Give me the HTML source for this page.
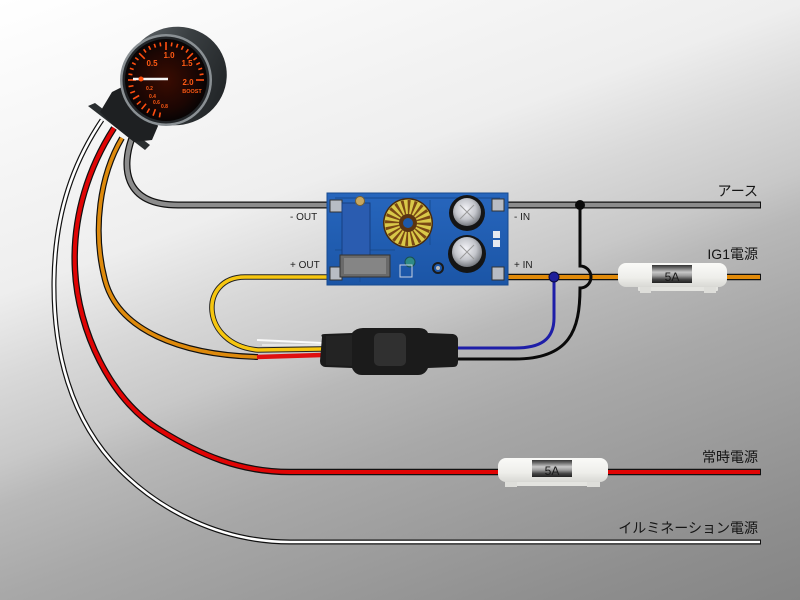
<!DOCTYPE html>
<html><head><meta charset="utf-8">
<style>
html,body{margin:0;padding:0;}
body{width:800px;height:600px;overflow:hidden;background:linear-gradient(160deg,#ffffff 0%,#eeeeee 33%,#d8d8d8 43%,#c8c8c8 52%,#b8b8b8 57%,#a8a8a8 67%,#9e9e9e 76%,#8e8e8e 90%,#858585 100%);}
svg{display:block;}
.lbl{font-family:"Liberation Sans","Noto Sans CJK JP",sans-serif;font-size:14px;fill:#151515;}
.pl{font-family:"Liberation Sans",sans-serif;font-size:10px;fill:#222;}
.g{font-family:"Liberation Sans",sans-serif;font-weight:bold;fill:#ff5a14;}
</style></head>
<body>
<svg width="800" height="600" viewBox="0 0 800 600" xmlns="http://www.w3.org/2000/svg">
<defs>
<radialGradient id="face" cx="0.5" cy="0.5" r="0.5">
<stop offset="0" stop-color="#3a0c02"/><stop offset="0.7" stop-color="#1c0603"/><stop offset="1" stop-color="#080404"/>
</radialGradient>
<linearGradient id="house" x1="0" y1="0" x2="1" y2="1">
<stop offset="0" stop-color="#6a7074"/><stop offset="0.45" stop-color="#3a3f42"/><stop offset="1" stop-color="#1a1d1f"/>
</linearGradient>
<linearGradient id="pcb" x1="0" y1="0" x2="0" y2="1">
<stop offset="0" stop-color="#2766bd"/><stop offset="1" stop-color="#1b55a6"/>
</linearGradient>
<linearGradient id="win" x1="0" y1="0" x2="0" y2="1">
<stop offset="0" stop-color="#333"/><stop offset="0.15" stop-color="#666"/><stop offset="0.4" stop-color="#c8c8c8"/><stop offset="0.6" stop-color="#9a9a9a"/><stop offset="0.8" stop-color="#444"/><stop offset="1" stop-color="#222"/>
</linearGradient>
<radialGradient id="cap" cx="0.45" cy="0.4" r="0.6">
<stop offset="0" stop-color="#f4f4f8"/><stop offset="0.6" stop-color="#c4c6cc"/><stop offset="1" stop-color="#777a80"/>
</radialGradient>
<linearGradient id="fuse" x1="0" y1="0" x2="0" y2="1">
<stop offset="0" stop-color="#fafaf8"/><stop offset="0.6" stop-color="#eeeeea"/><stop offset="1" stop-color="#d8d8d4"/>
</linearGradient>
</defs>

<!-- ===== wires from gauge ===== -->
<path d="M102,120 C75,160 55,210 54,280 C53,350 70,420 120,470 C160,510 220,542 290,542 L761,542" fill="none" stroke="#111" stroke-width="5"/>
<path d="M102,120 C75,160 55,210 54,280 C53,350 70,420 120,470 C160,510 220,542 290,542 L760,542" fill="none" stroke="#fff" stroke-width="2.6"/>
<path d="M114,128 C90,165 72,215 75,270 C78,330 110,400 160,430 C200,455 240,472 290,472 L761,472" fill="none" stroke="#111" stroke-width="6.5"/>
<path d="M114,128 C90,165 72,215 75,270 C78,330 110,400 160,430 C200,455 240,472 290,472 L760,472" fill="none" stroke="#e00404" stroke-width="4"/>
<path d="M122,138 C100,175 92,230 105,280 C118,330 180,355 258,357" fill="none" stroke="#111" stroke-width="6"/>
<path d="M122,138 C100,175 92,230 105,280 C118,330 180,355 258,357" fill="none" stroke="#de8a0c" stroke-width="3.6"/>
<path d="M132,138 C122,165 122,205 178,205 L338,205" fill="none" stroke="#111" stroke-width="7"/>
<path d="M132,138 C122,165 122,205 178,205 L338,205" fill="none" stroke="#8c8c8c" stroke-width="4.5"/>
<path d="M495,205 L761,205" fill="none" stroke="#111" stroke-width="7"/>
<path d="M495,205 L760,205" fill="none" stroke="#8c8c8c" stroke-width="4.5"/>
<path d="M495,277 L761,277" fill="none" stroke="#111" stroke-width="6.5"/>
<path d="M495,277 L760,277" fill="none" stroke="#e08a0a" stroke-width="4"/>
<path d="M337,277 L245,277 C198,277 200,345 258,350 L322,349" fill="none" stroke="#222" stroke-width="5.5"/>
<path d="M337,277 L245,277 C198,277 200,345 258,350 L322,349" fill="none" stroke="#f6c610" stroke-width="3.6"/>
<path d="M257,340 L322,343" stroke="#fafafa" stroke-width="2"/>
<path d="M262,345 L322,345" stroke="#eee" stroke-width="1.5"/>
<path d="M257,357 L322,355" stroke="#e01010" stroke-width="4.5"/>
<path d="M580,205 L580,266 A11,11 0 0 1 580,288 C580,330 570,359 515,359 L455,359" fill="none" stroke="#0a0a0a" stroke-width="3"/>
<path d="M554,277 L554,318 C554,340 540,348 515,348 L455,348" fill="none" stroke="#1e1ea8" stroke-width="3"/>
<circle cx="580" cy="205" r="5" fill="#0a0a0a"/>
<circle cx="554" cy="277" r="5" fill="#1e1e9a" stroke="#0a0a40" stroke-width="1"/>

<!-- ===== relay module ===== -->
<path d="M322,337 Q320,334 325,334 L352,333 Q356,328 363,328 L419,328 Q426,328 428,333 L453,334 Q458,335 458,340 L458,362 Q458,367 453,367 L428,368 Q425,375 418,375 L362,375 Q355,375 352,368 L325,367 Q320,366 320,361 Z" fill="#1b1b1b"/>
<path d="M326,336 L352,335 L352,366 L326,365 Z" fill="#232323"/>
<rect x="374" y="333" width="32" height="33" rx="5" fill="#303030"/>

<!-- ===== PCB ===== -->
<rect x="327" y="193" width="181" height="92" fill="url(#pcb)" stroke="#174a90" stroke-width="1"/>
<path d="M335,198 L500,198 M335,250 L395,250 M430,200 L430,245 M360,245 L360,282" stroke="#1a4f98" stroke-width="1.2" fill="none"/>
<rect x="330" y="200" width="12" height="12" fill="#b8bcc4" stroke="#333" stroke-width="1"/>
<rect x="330" y="267" width="12" height="13" fill="#b8bcc4" stroke="#333" stroke-width="1"/>
<rect x="492" y="199" width="12" height="12" fill="#b8bcc4" stroke="#333" stroke-width="1"/>
<rect x="492" y="267" width="12" height="13" fill="#b8bcc4" stroke="#333" stroke-width="1"/>
<rect x="493" y="231" width="7" height="7" fill="#e6eaf0"/>
<rect x="493" y="240" width="7" height="7" fill="#e6eaf0"/>
<rect x="342" y="203" width="28" height="55" fill="#2a5cb0" stroke="#163f82" stroke-width="1"/>
<circle cx="360" cy="201" r="4.5" fill="#c8a860" stroke="#7a6030" stroke-width="1"/>
<rect x="340" y="255" width="50" height="22" fill="#6a6a6a" stroke="#333" stroke-width="1"/>
<rect x="344" y="258" width="42" height="16" fill="#858585"/>
<!-- toroid -->
<circle cx="408" cy="223" r="25" fill="#4a2a0c"/>
<circle cx="408" cy="223" r="23.5" fill="#d9c848"/>
<circle cx="408" cy="223" r="16" fill="none" stroke="#7a4814" stroke-width="14" stroke-dasharray="2.2 2.8"/>
<circle cx="408" cy="223" r="9" fill="#5a3410"/>
<circle cx="408" cy="223" r="5" fill="#1d58a8"/>
<!-- caps -->
<circle cx="467" cy="213" r="18" fill="#151515"/>
<circle cx="467" cy="212" r="14" fill="url(#cap)"/>
<path d="M460,205 L474,219 M474,205 L460,219" stroke="#999" stroke-width="1"/>
<circle cx="467" cy="254" r="19" fill="#151515"/>
<circle cx="467" cy="252" r="15" fill="url(#cap)"/>
<path d="M460,245 L474,259 M474,245 L460,259" stroke="#999" stroke-width="1"/>
<circle cx="410" cy="262" r="5" fill="#2f8a86" stroke="#1a5050" stroke-width="1"/>
<rect x="400" y="265" width="12" height="12" fill="none" stroke="#c8d0e0" stroke-width="1"/>
<circle cx="438" cy="268" r="5" fill="none" stroke="#1a1a1a" stroke-width="2"/>
<circle cx="438" cy="268" r="2" fill="#bbb"/>

<text class="pl" x="290" y="220">- OUT</text>
<text class="pl" x="290" y="268">+ OUT</text>
<text class="pl" x="514" y="220">- IN</text>
<text class="pl" x="514" y="268">+ IN</text>

<!-- ===== fuses ===== -->
<g>
<rect x="638" y="281" width="80" height="10" rx="1" fill="#e4e4e0"/>
<rect x="640" y="284" width="11" height="9" fill="#dededa"/>
<rect x="704" y="284" width="12" height="9" fill="#dededa"/>
<rect x="618" y="263" width="109" height="24" rx="8" fill="url(#fuse)"/>
<rect x="652" y="265" width="40" height="18" fill="url(#win)"/>
<text x="672" y="281" text-anchor="middle" font-family="Liberation Sans,sans-serif" font-size="12" fill="#1a1a1a">5A</text>
</g>
<g>
<rect x="516" y="476" width="76" height="10" rx="1" fill="#e4e4e0"/>
<rect x="505" y="479" width="12" height="8" fill="#dededa"/>
<rect x="587" y="479" width="13" height="8" fill="#dededa"/>
<rect x="498" y="458" width="110" height="24" rx="8" fill="url(#fuse)"/>
<rect x="532" y="460" width="40" height="17" fill="url(#win)"/>
<text x="552" y="475" text-anchor="middle" font-family="Liberation Sans,sans-serif" font-size="12" fill="#1a1a1a">5A</text>
</g>

<text class="lbl" x="758" y="196" text-anchor="end">アース</text>
<text class="lbl" x="758" y="259" text-anchor="end">IG1電源</text>
<text class="lbl" x="758" y="462" text-anchor="end">常時電源</text>
<text class="lbl" x="758" y="533" text-anchor="end">イルミネーション電源</text>

<!-- ===== gauge ===== -->
<g>
<path d="M88,106 L95,103 L150,145 L145,150 Z" fill="#2a2e30"/>
<path d="M100,112 L112,92 L128,84 L150,108 L158,126 L152,140 L134,142 L114,126 Z" fill="#1e2022"/>
<ellipse cx="176" cy="76" rx="51" ry="49" transform="rotate(-20 176 76)" fill="url(#house)"/>
<circle cx="166" cy="80" r="46" fill="#8a9094"/>
<circle cx="166" cy="80" r="43.5" fill="#222528"/>
<circle cx="166" cy="80" r="41" fill="url(#face)"/>
<g stroke="#ff4e10" stroke-width="1.6">
<line x1="166" y1="42" x2="166" y2="47" transform="rotate(-170 166 80)"/>
<line x1="166" y1="42" x2="166" y2="49" transform="rotate(-160 166 80)"/>
<line x1="166" y1="42" x2="166" y2="47" transform="rotate(-150 166 80)"/>
<line x1="166" y1="42" x2="166" y2="49" transform="rotate(-140 166 80)"/>
<line x1="166" y1="42" x2="166" y2="47" transform="rotate(-130 166 80)"/>
<line x1="166" y1="42" x2="166" y2="49" transform="rotate(-120 166 80)"/>
<line x1="166" y1="42" x2="166" y2="47" transform="rotate(-110 166 80)"/>
<line x1="166" y1="42" x2="166" y2="47" transform="rotate(-100 166 80)"/>
<line x1="166" y1="42" x2="166" y2="50" transform="rotate(-90 166 80)"/>
<line x1="166" y1="42" x2="166" y2="46" transform="rotate(-81 166 80)"/>
<line x1="166" y1="42" x2="166" y2="46" transform="rotate(-72 166 80)"/>
<line x1="166" y1="42" x2="166" y2="46" transform="rotate(-63 166 80)"/>
<line x1="166" y1="42" x2="166" y2="46" transform="rotate(-54 166 80)"/>
<line x1="166" y1="42" x2="166" y2="50" transform="rotate(-45 166 80)"/>
<line x1="166" y1="42" x2="166" y2="46" transform="rotate(-36 166 80)"/>
<line x1="166" y1="42" x2="166" y2="46" transform="rotate(-27 166 80)"/>
<line x1="166" y1="42" x2="166" y2="46" transform="rotate(-18 166 80)"/>
<line x1="166" y1="42" x2="166" y2="46" transform="rotate(-9 166 80)"/>
<line x1="166" y1="42" x2="166" y2="50" transform="rotate(0 166 80)"/>
<line x1="166" y1="42" x2="166" y2="46" transform="rotate(9 166 80)"/>
<line x1="166" y1="42" x2="166" y2="46" transform="rotate(18 166 80)"/>
<line x1="166" y1="42" x2="166" y2="46" transform="rotate(27 166 80)"/>
<line x1="166" y1="42" x2="166" y2="46" transform="rotate(36 166 80)"/>
<line x1="166" y1="42" x2="166" y2="50" transform="rotate(45 166 80)"/>
<line x1="166" y1="42" x2="166" y2="46" transform="rotate(54 166 80)"/>
<line x1="166" y1="42" x2="166" y2="46" transform="rotate(63 166 80)"/>
<line x1="166" y1="42" x2="166" y2="46" transform="rotate(72 166 80)"/>
<line x1="166" y1="42" x2="166" y2="46" transform="rotate(81 166 80)"/>
<line x1="166" y1="42" x2="166" y2="50" transform="rotate(90 166 80)"/>
</g>
<text class="g" x="169" y="58" font-size="8" text-anchor="middle">1.0</text>
<text class="g" x="152" y="66" font-size="8" text-anchor="middle">0.5</text>
<text class="g" x="187" y="66" font-size="8" text-anchor="middle">1.5</text>
<text class="g" x="188" y="85" font-size="8" text-anchor="middle">2.0</text>
<text class="g" x="192" y="93" font-size="5.5" text-anchor="middle">BOOST</text>
<text class="g" x="146" y="90" font-size="5">0.2</text>
<text class="g" x="149" y="98" font-size="5">0.4</text>
<text class="g" x="153" y="104" font-size="5">0.6</text>
<text class="g" x="161" y="108" font-size="5">0.8</text>
<line x1="133" y1="79" x2="168" y2="79" stroke="#f4f4f4" stroke-width="2.5"/>
<circle cx="141" cy="79" r="2.5" fill="#ff5010"/>
</g>
</svg>
</body></html>
